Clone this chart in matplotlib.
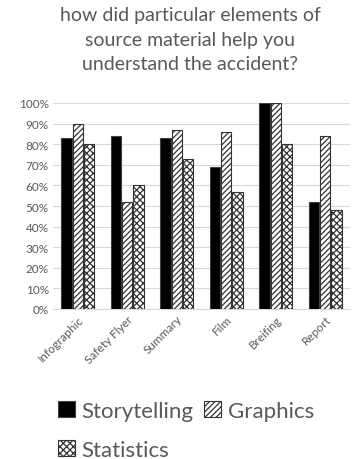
import matplotlib
matplotlib.use("Agg")
import matplotlib.pyplot as plt
import numpy as np

categories = ["Infographic", "Safety Flyer", "Summary", "Film", "Breifing", "Report"]
storytelling = [83, 84, 83, 69, 100, 52]
graphics = [90, 52, 87, 86, 100, 84]
statistics = [80, 60, 73, 57, 80, 48]
yticks = list(range(0, 101, 10))

plt.rcParams['font.family'] = ['Lato', 'DejaVu Sans']
plt.rcParams['hatch.linewidth'] = 0.9
gray = "#595959"

fig = plt.figure(figsize=(3.52, 4.60), dpi=100)
ax = fig.add_axes([53/352, 1-310/460, 297/352, (310-104)/460])

x = np.arange(len(categories))
w = 0.21
b1 = ax.bar(x - w - 0.02, storytelling, w, color="black", edgecolor="#404040", linewidth=0.8, zorder=3, label="Storytelling")
b2 = ax.bar(x, graphics, w, color="white", edgecolor="#333333", hatch="//////", linewidth=0.8, zorder=3, label="Graphics")
b3 = ax.bar(x + w + 0.02, statistics, w, color="white", edgecolor="#333333", hatch="xxxxx", linewidth=0.8, zorder=3, label="Statistics")

ax.set_xlim(-0.5, len(categories) - 0.5)
ax.set_ylim(0, 100)
ax.set_yticks(yticks)
ax.set_yticklabels([f"{t}%" for t in yticks], fontsize=8.5, color=gray)
ax.set_xticks(x)
ax.set_xticklabels(categories, rotation=45, ha="right", rotation_mode="anchor", fontsize=8.5, color=gray)
ax.yaxis.grid(True, color="#d9d9d9", linewidth=0.8, zorder=0)
ax.set_axisbelow(True)
for s in ["top", "right", "left"]:
    ax.spines[s].set_visible(False)
ax.spines["bottom"].set_color("#d9d9d9")
ax.tick_params(axis="both", length=0, pad=3)

fig.text(0.54, 1-7/460, "how did particular elements of\nsource material help you\nunderstand the accident?",
         ha="center", va="top", fontsize=14, color=gray, linespacing=1.55)

handles = [b1, b3, b2]
labels = ["Storytelling", "Statistics", "Graphics"]
leg = fig.legend(handles, labels, ncol=2, loc="upper left", bbox_to_anchor=(38/352, 1-382/460),
                 frameon=False, fontsize=16, handlelength=0.75, handleheight=0.75,
                 handletextpad=0.3, columnspacing=0.5, labelspacing=0.85, labelcolor=gray)

fig.savefig("out.png", dpi=100)
